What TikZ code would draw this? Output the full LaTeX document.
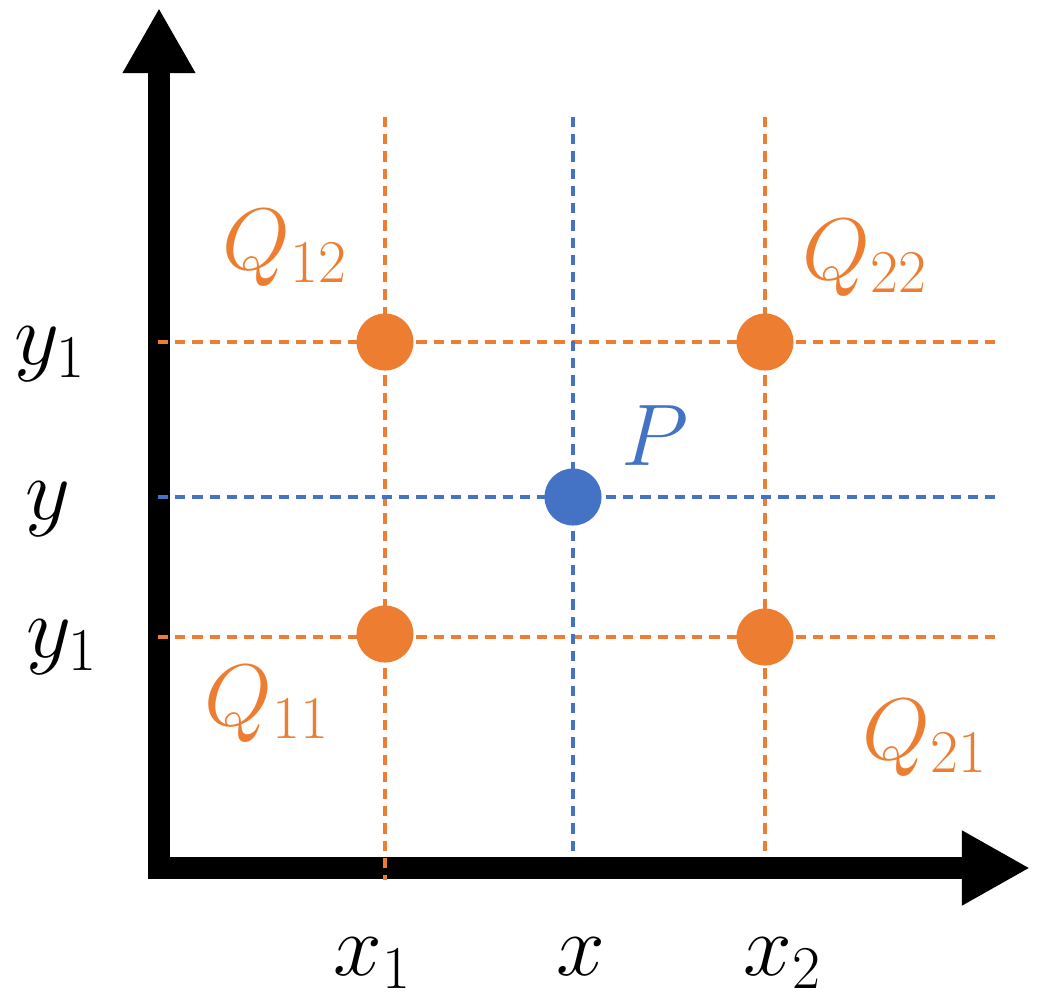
\documentclass[tikz,border=0pt]{standalone}
\usetikzlibrary{arrows.meta}
\DeclareMathSizes{24.88}{24.88}{17.28}{14.4}
\definecolor{qcolor}{RGB}{237, 125, 49}
\definecolor{pcolor}{RGB}{68, 114, 196}

\begin{document}
\begin{tikzpicture}[x=0.01cm, y=-0.01cm,
                axis/.style={line width=0.22cm, line join=miter,
                    {Triangle[length=0.65cm, width=0.68cm]}-{Triangle[length=0.68cm, width=0.70cm]}},
                guide/.style={line width=0.9pt, dash pattern=on 2.9pt off 2pt},
                dot/.style={circle, minimum size=0.57cm, inner sep=0pt},
                lbl/.style={anchor=base, inner sep=0pt, font=\Huge}]

                \useasboundingbox (0,0) rectangle (1047,1008);

                % Axes
                \coordinate (ytip) at (159,8);
                \coordinate (O) at (159,868);
                \coordinate (xtip) at (1030,868);
                \draw[axis] (ytip) -- (O) -- (xtip);

                % Guide end points
                \coordinate (la) at (158,342);
                \coordinate (lb) at (158,497);
                \coordinate (lc) at (158,637);
                \coordinate (ra) at (1002,342);
                \coordinate (rb) at (995,497);
                \coordinate (rc) at (1002,637);
                \coordinate (ta) at (385,117);
                \coordinate (tb) at (573,117);
                \coordinate (tc) at (765,117);
                \coordinate (ba) at (385,880);
                \coordinate (bb) at (573,857);
                \coordinate (bc) at (765,857);

                % Guides
                \foreach \s/\e in {la/ra, lc/rc, ta/ba, tc/bc} {
                    \draw[guide, qcolor] (\s) -- (\e);
                }
                \draw[guide, pcolor] (lb) -- (rb);
                \draw[guide, pcolor] (tb) -- (bb);

                % Points
                \node[dot, fill=qcolor] (q12) at (385,342) {};
                \node[dot, fill=qcolor] (q22) at (765,342) {};
                \node[dot, fill=qcolor] (q11) at (385,634) {};
                \node[dot, fill=qcolor] (q21) at (765,637) {};
                \node[dot, fill=pcolor] (p) at (573,497) {};

                % Point labels
                \node[lbl, text=qcolor] (q12lbl) at (285,269) {$Q_{12}$};
                \node[lbl, text=qcolor] (q22lbl) at (865,279) {$Q_{22}$};
                \node[lbl, text=qcolor] (q11lbl) at (267,725) {$Q_{11}$};
                \node[lbl, text=qcolor] (q21lbl) at (925,759) {$Q_{21}$};
                \node[lbl, text=pcolor] (plbl) at (655,465) {$P$};

                % Axis labels
                \node[lbl] (y1lbl) at (50,364) {$y_1$};
                \node[lbl] (ylbl) at (48,519) {$y$};
                \node[lbl] (y0lbl) at (62,657) {$y_1$};
                \node[lbl] (x1lbl) at (373,975) {$x_1$};
                \node[lbl] (xlbl) at (581,975) {$x$};
                \node[lbl] (x2lbl) at (783,975) {$x_2$};

            \end{tikzpicture}
\end{document}
